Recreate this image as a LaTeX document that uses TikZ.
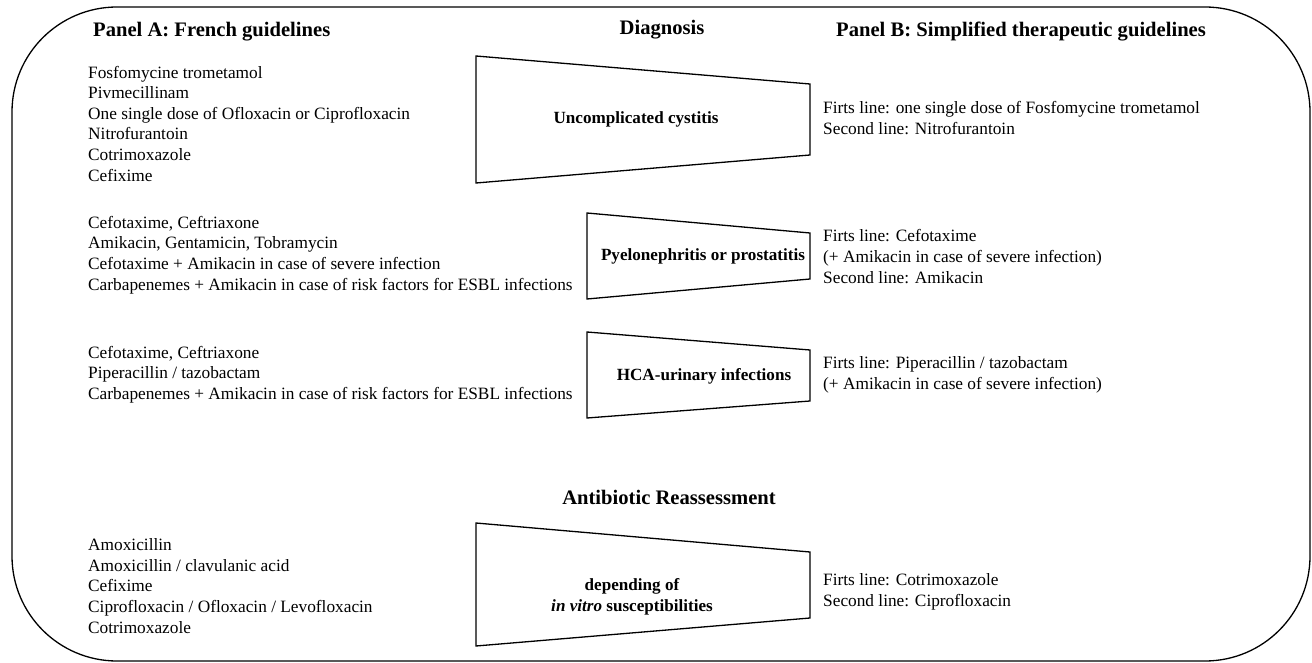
\documentclass[tikz,border=0pt]{standalone}
\usepackage{fontspec}
\setmainfont{Liberation Serif}
\usetikzlibrary{calc}
\tikzset{
  txt/.style={anchor=west, align=left, inner sep=0pt, font=\fontsize{17.3}{20.6}\selectfont},
  head/.style={inner sep=0pt, font=\fontsize{20.6}{24}\selectfont\bfseries},
  lbl/.style={inner sep=0pt, align=center, font=\fontsize{17.1}{20.6}\selectfont\bfseries},
  funnel/.style={draw, line width=1.3pt, line join=miter},
}

\begin{document}
\begin{tikzpicture}[x=1pt,y=-1pt]
            \useasboundingbox (0,0) rectangle (1312,663);
            \draw[line width=1.3pt, rounded corners=105pt] (12,7) rectangle (1310,661);
            % headings
            \node[head, anchor=west] (panelA) at (93,32) {Panel A: French guidelines};
            \node[head] (diag) at (662,30) {Diagnosis};
            \node[head, anchor=west] (panelB) at (836,32) {Panel B: Simplified therapeutic guidelines};
            \node[head] (reass) at (669,497) {Antibiotic Reassessment};
            % funnels
            \coordinate (u1) at (476,56);
            \coordinate (u2) at (810,84);
            \coordinate (u3) at (810,155);
            \coordinate (u4) at (476,183);
            \coordinate (p1) at (587,213);
            \coordinate (p2) at (810,233);
            \coordinate (p3) at (810,279);
            \coordinate (p4) at (587,299);
            \coordinate (h1) at (587,332);
            \coordinate (h2) at (810,350);
            \coordinate (h3) at (810,401);
            \coordinate (h4) at (587,418);
            \coordinate (r1) at (476,523);
            \coordinate (r2) at (810,552);
            \coordinate (r3) at (810,618);
            \coordinate (r4) at (476,646);
            \draw[funnel] (u1)--(u2)--(u3)--(u4)--cycle;
            \draw[funnel] (p1)--(p2)--(p3)--(p4)--cycle;
            \draw[funnel] (h1)--(h2)--(h3)--(h4)--cycle;
            \draw[funnel] (r1)--(r2)--(r3)--(r4)--cycle;
            \node[lbl] (cyst) at (636,119) {Uncomplicated cystitis};
            \node[lbl] (pyelo) at (703,256) {Pyelonephritis or prostatitis};
            \node[lbl] (hca) at (704,376) {HCA-urinary infections};
            \node[lbl] (vitro) at (632,597) {depending of\\\textit{in vitro} susceptibilities};
            % panel A
            \node[txt] (a1) at (88,123.5) {Fosfomycine trometamol\\Pivmecillinam\\One single dose of Ofloxacin or Ciprofloxacin\\Nitrofurantoin\\Cotrimoxazole\\Cefixime};
            \node[txt] (a2) at (88,255) {Cefotaxime, Ceftriaxone\\Amikacin, Gentamicin, Tobramycin\\Cefotaxime + Amikacin in case of severe infection\\Carbapenemes + Amikacin in case of risk factors for ESBL infections};
            \node[txt] (a3) at (88,374.5) {Cefotaxime, Ceftriaxone\\Piperacillin / tazobactam\\Carbapenemes + Amikacin in case of risk factors for ESBL infections};
            \node[txt] (a4) at (88,586) {Amoxicillin\\Amoxicillin / clavulanic acid\\Cefixime\\Ciprofloxacin / Ofloxacin / Levofloxacin\\Cotrimoxazole};
            % panel B
            \node[txt] (b1) at (823,118) {Firts line: one single dose of Fosfomycine trometamol\\Second line: Nitrofurantoin};
            \node[txt] (b2) at (823,256.5) {Firts line: Cefotaxime\\(+ Amikacin in case of severe infection)\\Second line: Amikacin};
            \node[txt] (b3) at (823,375) {Firts line: Piperacillin / tazobactam\\(+ Amikacin in case of severe infection)};
            \node[txt] (b4) at (823,592) {Firts line: Cotrimoxazole\\Second line: Ciprofloxacin};
        \end{tikzpicture}
\end{document}
